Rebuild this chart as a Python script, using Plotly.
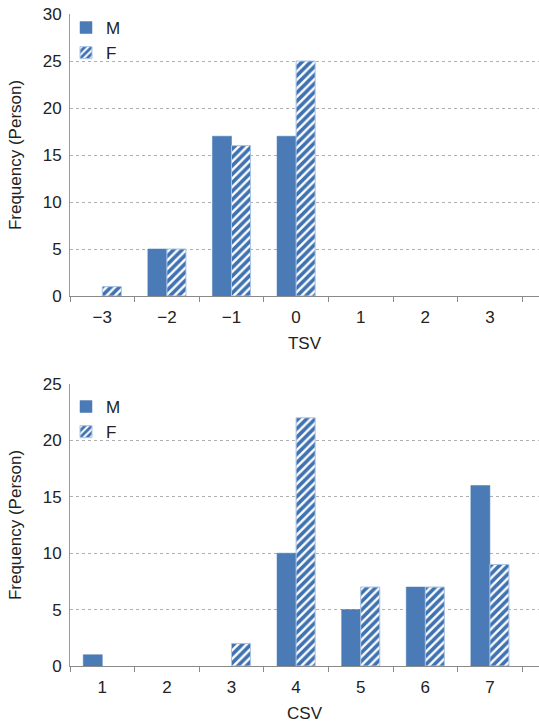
import plotly.graph_objects as go

tsv_cats = ["\u22123", "\u22122", "\u22121", "0", "1", "2", "3"]
tsv_m = [0, 5, 17, 17, 0, 0, 0]
tsv_f = [1, 5, 16, 25, 0, 0, 0]

csv_cats = ["1", "2", "3", "4", "5", "6", "7"]
csv_m = [1, 0, 0, 10, 5, 7, 16]
csv_f = [0, 0, 2, 22, 7, 7, 9]

BLUE = "#4a7bb6"
EDGE = "#a9c3e6"
FONT = "Liberation Sans, Arial, sans-serif"
FS = 17

W, H = 539, 724
def py(p):
    return 1 - p / H

def nz(vals):
    return [v if v else None for v in vals]

fig = go.Figure()

def add_pair(cats, m, f, xa, ya, legend):
    fig.add_trace(go.Bar(x=cats, y=nz(m), name="M", xaxis=xa, yaxis=ya, legend=legend,
                         marker=dict(color=BLUE, line=dict(color=BLUE, width=0.5))))
    fig.add_trace(go.Bar(x=cats, y=nz(f), name="F", xaxis=xa, yaxis=ya, legend=legend,
                         marker=dict(color="white",
                                     line=dict(color=EDGE, width=1),
                                     pattern=dict(shape="/", fgcolor="#3f72b0", bgcolor="white",
                                                  size=6, solidity=0.6, fgopacity=1,
                                                  fillmode="overlay"))))

add_pair(tsv_cats, tsv_m, tsv_f, "x", "y", "legend")
add_pair(csv_cats, csv_m, csv_f, "x2", "y2", "legend2")

xdom = [70 / W, 1.0]
common_x = dict(type="category", range=[-0.5, 6.76], tickson="boundaries",
                ticks="outside", ticklen=5, tickcolor="#8a8a8a", showline=True,
                linecolor="#8a8a8a", linewidth=1, showgrid=False, automargin=False,
                tickfont=dict(size=FS, color="#222", family=FONT), zeroline=False,
                ticklabelstandoff=6,
                title_font=dict(size=FS, color="#222", family=FONT), title_standoff=10)
common_y = dict(showline=True, linecolor="#9a9a9a", linewidth=1, showgrid=True,
                gridcolor="#b0b0b0", griddash="3px,3px", gridwidth=1, ticks="",
                tickfont=dict(size=FS, color="#222", family=FONT), zeroline=False,
                automargin=False, dtick=5, ticklabelstandoff=4,
                title_font=dict(size=FS, color="#222", family=FONT), title_standoff=16)

leg = dict(xanchor="left", yanchor="top", font=dict(size=FS, family=FONT, color="#222"),
           bgcolor="rgba(0,0,0,0)", tracegroupgap=0, itemwidth=30)

fig.update_layout(
    width=W, height=H, margin=dict(l=0, r=0, t=0, b=0),
    paper_bgcolor="white", plot_bgcolor="white",
    barmode="group", bargap=0.41, bargroupgap=0.0,
    font=dict(family=FONT, color="#222"),
    xaxis=dict(common_x, domain=xdom, anchor="y", title_text="TSV"),
    yaxis=dict(common_y, domain=[py(296), py(14)], anchor="x", range=[0, 30],
               title_text="Frequency (Person)"),
    xaxis2=dict(common_x, domain=xdom, anchor="y2", title_text="CSV"),
    yaxis2=dict(common_y, domain=[py(666), py(384)], anchor="x2", range=[0, 25],
                title_text="Frequency (Person)"),
    legend=dict(leg, x=66 / W, y=py(10)),
    legend2=dict(leg, x=66 / W, y=py(389)),
)

fig.write_html("out.html")
